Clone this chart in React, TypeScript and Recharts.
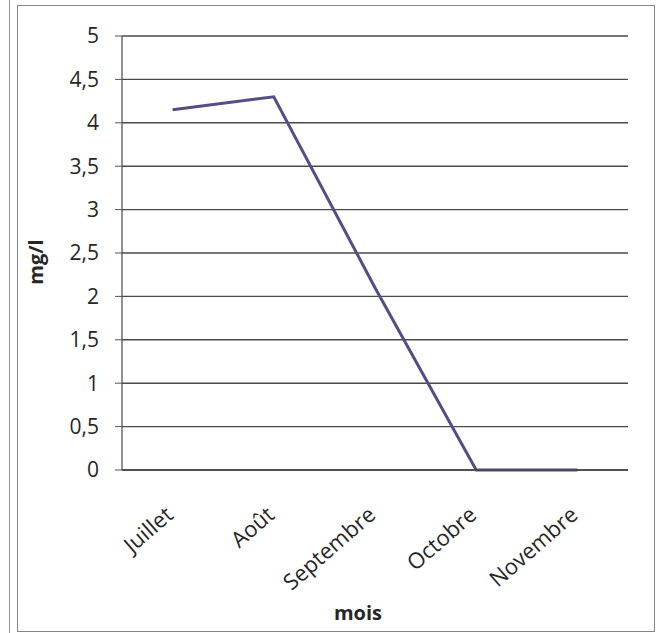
import { LineChart, Line, XAxis, YAxis, CartesianGrid } from 'recharts';

// Concentration mensuelle (mg/l)
const mois = ['Juillet', 'Août', 'Septembre', 'Octobre', 'Novembre'];
const valeurs = [4.15, 4.3, 2.1, 0, 0];
const yTicks = [0, 0.5, 1, 1.5, 2, 2.5, 3, 3.5, 4, 4.5, 5];

const data = mois.map((m, i) => ({ mois: m, valeur: valeurs[i] }));

const FONT = '"Open Sans", Lato, sans-serif';
const INK = '#262626';

const MoisTick = ({ x, y, payload }: any) => {
  const ax = x + 2;
  const ay = y + 39;
  return (
    <text
      x={ax}
      y={ay}
      transform={`rotate(-41, ${ax}, ${ay})`}
      textAnchor="end"
      fontFamily={FONT}
      fontSize={22}
      fill={INK}
    >
      {payload.value}
    </text>
  );
};

const formatVirgule = (v: number) => String(v).replace('.', ',');

export default function App() {
  return (
    <div style={{ position: 'absolute', left: 0, top: 0, width: 661, height: 633, background: '#fff', overflow: 'hidden' }}>
      <div style={{ position: 'absolute', left: 9, top: 0, width: 0, height: 633, borderLeft: '1.5px solid #999' }} />
      <div style={{ position: 'absolute', left: 17, top: 5, width: 636, height: 625, border: '1.5px solid #888' }} />
      <LineChart
        width={661}
        height={633}
        data={data}
        margin={{ top: 36, right: 33, bottom: 0, left: 0 }}
        style={{ position: 'absolute', left: 0, top: 0 }}
      >
        <CartesianGrid horizontal vertical={false} stroke="#4a4a4a" strokeWidth={1.4} />
        <XAxis
          dataKey="mois"
          scale="band"
          interval={0}
          tick={<MoisTick />}
          tickLine={false}
          axisLine={{ stroke: '#444', strokeWidth: 1.5 }}
          height={163}
          label={() => (
            <text x={358} y={620} textAnchor="middle" fontFamily={FONT} fontSize={20} fontWeight="bold" fill={INK}>
              mois
            </text>
          )}
        />
        <YAxis
          domain={[0, 5]}
          ticks={yTicks}
          interval={0}
          width={122}
          tickFormatter={formatVirgule}
          tickSize={7}
          tickMargin={16}
          tick={{ fontFamily: FONT, fontSize: 21, fill: INK }}
          tickLine={{ stroke: '#555' }}
          axisLine={{ stroke: '#555', strokeWidth: 1.3 }}
          label={() => (
            <text
              x={43}
              y={262}
              transform="rotate(-90, 43, 262)"
              textAnchor="middle"
              fontFamily={FONT}
              fontSize={20}
              fontWeight="bold"
              fill={INK}
            >
              mg/l
            </text>
          )}
        />
        <Line
          type="linear"
          dataKey="valeur"
          stroke="#524e86"
          strokeWidth={3}
          dot={false}
          isAnimationActive={false}
        />
      </LineChart>
    </div>
  );
}
